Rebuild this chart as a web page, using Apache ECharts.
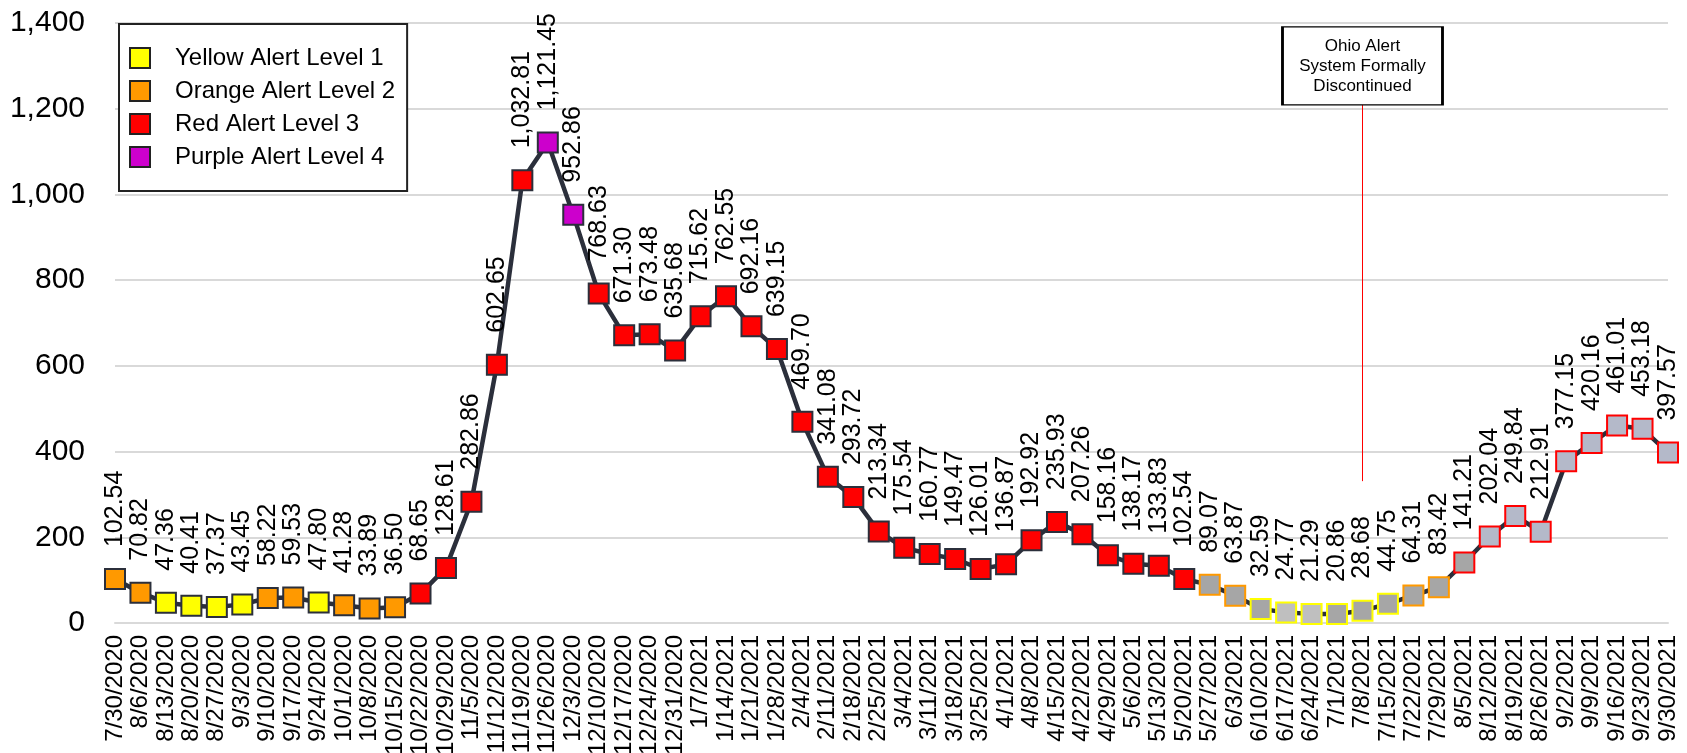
<!DOCTYPE html>
<html lang="en">

<head>
    <meta charset="UTF-8">
    <title>Ohio weekly cases per 100k</title>
    <script src="https://cdn.jsdelivr.net/npm/echarts@6/dist/echarts.min.js"></script>
    <style>
        html, body { margin: 0; padding: 0; background: #fff; }
        #chart { width: 1687px; height: 753px; }
    </style>
</head>

<body>
    <div id="chart"></div>

    <script>
        // weekly report dates
        var dates = [
            '7/30/2020', '8/6/2020', '8/13/2020', '8/20/2020', '8/27/2020', '9/3/2020', '9/10/2020', '9/17/2020',
            '9/24/2020', '10/1/2020', '10/8/2020', '10/15/2020', '10/22/2020', '10/29/2020', '11/5/2020', '11/12/2020',
            '11/19/2020', '11/26/2020', '12/3/2020', '12/10/2020', '12/17/2020', '12/24/2020', '12/31/2020', '1/7/2021',
            '1/14/2021', '1/21/2021', '1/28/2021', '2/4/2021', '2/11/2021', '2/18/2021', '2/25/2021', '3/4/2021',
            '3/11/2021', '3/18/2021', '3/25/2021', '4/1/2021', '4/8/2021', '4/15/2021', '4/22/2021', '4/29/2021',
            '5/6/2021', '5/13/2021', '5/20/2021', '5/27/2021', '6/3/2021', '6/10/2021', '6/17/2021', '6/24/2021',
            '7/1/2021', '7/8/2021', '7/15/2021', '7/22/2021', '7/29/2021', '8/5/2021', '8/12/2021', '8/19/2021',
            '8/26/2021', '9/2/2021', '9/9/2021', '9/16/2021', '9/23/2021', '9/30/2021'
        ];

        var values = [
            102.54, 70.82, 47.36, 40.41, 37.37, 43.45, 58.22, 59.53, 47.80, 41.28,
            33.89, 36.50, 68.65, 128.61, 282.86, 602.65, 1032.81, 1121.45, 952.86, 768.63,
            671.30, 673.48, 635.68, 715.62, 762.55, 692.16, 639.15, 469.70, 341.08, 293.72,
            213.34, 175.54, 160.77, 149.47, 126.01, 136.87, 192.92, 235.93, 207.26, 158.16,
            138.17, 133.83, 102.54, 89.07, 63.87, 32.59, 24.77, 21.29, 20.86, 28.68,
            44.75, 64.31, 83.42, 141.21, 202.04, 249.84, 212.91, 377.15, 420.16, 461.01,
            453.18, 397.57
        ];

        // alert level for each week (1 yellow, 2 orange, 3 red, 4 purple)
        var levels = [
            2, 2, 1, 1, 1, 1, 2, 2, 1, 2,
            2, 2, 3, 3, 3, 3, 3, 4, 4, 3,
            3, 3, 3, 3, 3, 3, 3, 3, 3, 3,
            3, 3, 3, 3, 3, 3, 3, 3, 3, 3,
            3, 3, 3, 2, 2, 1, 1, 1, 1, 1,
            1, 2, 2, 3, 3, 3, 3, 3, 3, 3,
            3, 3
        ];

        var levelNames = ['Yellow Alert Level 1', 'Orange Alert Level 2', 'Red Alert Level 3', 'Purple Alert Level 4'];
        var yTicks = [0, 200, 400, 600, 800, 1000, 1200, 1400];

        // alert system dropped from this week on
        var discontinuedFrom = '5/27/2021';
        var noteAt = '7/8/2021';

        var levelColors = ['#ffff00', '#ff9900', '#ff0000', '#cc00cc'];
        var edge = '#2b2f3b';
        var font = 'Liberation Sans, Arial, sans-serif';
        var cut = dates.indexOf(discontinuedFrom);

        var points = values.map(function (v, i) {
            var c = levelColors[levels[i] - 1];
            if (i < cut) {
                return { value: v, itemStyle: { color: c, borderColor: edge, borderWidth: 2 } };
            }
            var fill = '#a6a6a6';
            if (i === cut + 3 || i === cut + 4) fill = '#bfbfbf';
            if (i >= cut + 11) fill = '#b4b9c9';
            return { value: v, itemStyle: { color: fill, borderColor: c, borderWidth: 2 } };
        });

        var chart = echarts.init(document.getElementById('chart'));

        var series = [{
            name: 'cases',
            type: 'line',
            data: points,
            symbol: 'rect',
            symbolSize: 20,
            z: 3,
            lineStyle: { color: edge, width: 4.5 },
            label: {
                show: true,
                position: 'top',
                distance: 21,
                rotate: 90,
                align: 'left',
                verticalAlign: 'middle',
                color: '#000',
                fontFamily: font,
                fontSize: 25,
                formatter: function (p) {
                    return p.value.toLocaleString('en-US', { minimumFractionDigits: 2, maximumFractionDigits: 2 });
                }
            },
            markLine: {
                silent: true,
                symbol: 'none',
                label: { show: false },
                lineStyle: { color: '#ff0000', width: 1, type: 'solid' },
                data: [[{ coord: [noteAt, 331] }, { coord: [noteAt, 1209] }]]
            },
            markPoint: {
                silent: true,
                symbol: 'rect',
                symbolSize: [160, 78],
                itemStyle: { color: '#fff', borderColor: '#000', borderWidth: 2 },
                label: {
                    show: true,
                    position: 'inside',
                    color: '#000',
                    fontFamily: font,
                    fontSize: 17,
                    lineHeight: 20,
                    formatter: 'Ohio Alert\nSystem Formally\nDiscontinued'
                },
                data: [{ coord: [noteAt, 1300] }]
            }
        }];

        // legend-only entries
        levelNames.forEach(function (n, i) {
            series.push({ name: n, type: 'scatter', data: [], itemStyle: { color: levelColors[i], opacity: 1 } });
        });

        chart.setOption({
            animation: false,
            textStyle: { fontFamily: font },
            grid: { left: 115, right: 19, top: 23, bottom: 130, containLabel: false, outerBoundsMode: 'none' },
            legend: {
                data: levelNames,
                orient: 'vertical',
                left: 119,
                top: 24,
                icon: 'rect',
                itemWidth: 20,
                itemHeight: 20,
                itemGap: 9,
                padding: [22, 12, 22, 10],
                borderColor: '#222',
                borderWidth: 2,
                backgroundColor: '#fff',
                itemStyle: { borderColor: '#222', borderWidth: 2, opacity: 1 },
                textStyle: { color: '#000', fontSize: 24, fontFamily: font, padding: [0, 0, 0, 20] }
            },
            xAxis: {
                type: 'category',
                data: dates,
                boundaryGap: false,
                axisLine: { lineStyle: { color: '#d9d9d9', width: 2 } },
                axisTick: { show: false },
                axisLabel: {
                    interval: 0,
                    rotate: 90,
                    margin: 12,
                    color: '#000',
                    fontSize: 24,
                    fontFamily: font
                }
            },
            yAxis: {
                type: 'value',
                min: yTicks[0],
                max: yTicks[yTicks.length - 1],
                interval: 200,
                axisLine: { show: false },
                axisTick: { show: false },
                splitLine: { lineStyle: { color: '#d9d9d9', width: 2 } },
                axisLabel: {
                    margin: 30,
                    color: '#000',
                    fontSize: 30,
                    fontFamily: font,
                    formatter: function (v) { return v.toLocaleString('en-US'); }
                }
            },
            series: series
        });
    </script>
</body>

</html>
